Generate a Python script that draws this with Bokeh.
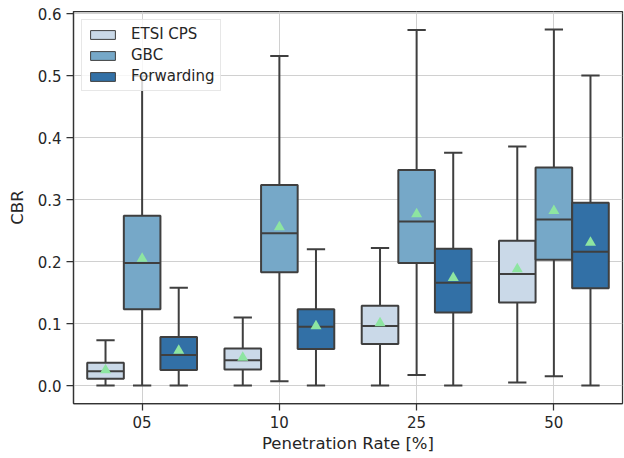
from bokeh.plotting import figure
from bokeh.models import ColumnDataSource, FixedTicker, Legend, LegendItem, Range1d
from bokeh.embed import file_html
from bokeh.resources import INLINE

categories = ["05", "10", "25", "50"]
series = ["ETSI CPS", "GBC", "Forwarding"]
colors = ["#cad9e8", "#76a8c8", "#3270a6"]

etsi_low = [0.0, 0.0, 0.0, 0.005]
etsi_q1 = [0.011, 0.026, 0.067, 0.134]
etsi_med = [0.023, 0.041, 0.096, 0.180]
etsi_q3 = [0.037, 0.060, 0.129, 0.234]
etsi_high = [0.073, 0.110, 0.222, 0.386]
etsi_mean = [0.025, 0.045, 0.101, 0.188]

gbc_low = [0.0, 0.007, 0.017, 0.015]
gbc_q1 = [0.123, 0.183, 0.198, 0.203]
gbc_med = [0.198, 0.246, 0.265, 0.268]
gbc_q3 = [0.274, 0.324, 0.348, 0.352]
gbc_high = [0.50, 0.532, 0.574, 0.575]
gbc_mean = [0.205, 0.256, 0.277, 0.282]

fwd_low = [0.0, 0.0, 0.0, 0.0]
fwd_q1 = [0.025, 0.059, 0.118, 0.157]
fwd_med = [0.0495, 0.095, 0.166, 0.216]
fwd_q3 = [0.0785, 0.123, 0.221, 0.295]
fwd_high = [0.158, 0.220, 0.376, 0.5005]
fwd_mean = [0.0565, 0.096, 0.174, 0.231]

stats = [
    (etsi_low, etsi_q1, etsi_med, etsi_q3, etsi_high, etsi_mean),
    (gbc_low, gbc_q1, gbc_med, gbc_q3, gbc_high, gbc_mean),
    (fwd_low, fwd_q1, fwd_med, fwd_q3, fwd_high, fwd_mean),
]

FONT = "DejaVu Sans"
EDGE = "#3f3f3f"
TXT = "#262626"

p = figure(width=624, height=458, output_backend="svg", toolbar_location=None,
           x_range=Range1d(-0.5, 3.5), y_range=Range1d(-0.029, 0.604),
           min_border_left=73, min_border_right=2, min_border_top=11, min_border_bottom=55)

p.outline_line_color = "#333333"
p.outline_line_width = 1.25
p.background_fill_color = "white"
p.border_fill_color = "white"

p.xgrid.grid_line_color = "#d0d0d0"
p.ygrid.grid_line_color = "#d0d0d0"
p.xgrid.grid_line_width = 1
p.ygrid.grid_line_width = 1

p.xaxis.ticker = FixedTicker(ticks=list(range(len(categories))))
p.xaxis.major_label_overrides = {i: c for i, c in enumerate(categories)}
p.yaxis.ticker = FixedTicker(ticks=[0.0, 0.1, 0.2, 0.3, 0.4, 0.5, 0.6])
p.yaxis.major_label_overrides = {v: f"{v:.1f}" for v in [0.0, 0.1, 0.2, 0.3, 0.4, 0.5, 0.6]}

for ax in (p.xaxis, p.yaxis):
    ax.axis_line_color = "#333333"
    ax.axis_line_width = 1.25
    ax.major_tick_line_color = "#333333"
    ax.major_tick_line_width = 1.25
    ax.major_tick_out = 7
    ax.major_tick_in = 0
    ax.minor_tick_line_color = None
    ax.major_label_text_font = FONT
    ax.major_label_text_font_size = "15px"
    ax.major_label_text_color = TXT
    ax.axis_label_text_font = FONT
    ax.axis_label_text_font_size = "16.5px"
    ax.axis_label_text_font_style = "normal"
    ax.axis_label_text_color = TXT
    ax.major_label_standoff = 5

p.xaxis.axis_label = "Penetration Rate [%]"
p.yaxis.axis_label = "CBR"
p.xaxis.axis_label_standoff = 3
p.yaxis.axis_label_standoff = 8

width = 0.8 / 3
legend_items = []
for k, (lo, q1, med, q3, hi, mn) in enumerate(stats):
    off = (k - 1) * width
    xs = [i + off for i in range(len(categories))]
    src = ColumnDataSource(dict(x=xs, lo=lo, q1=q1, med=med, q3=q3, hi=hi, mn=mn,
                                left=[x - width / 2 for x in xs], right=[x + width / 2 for x in xs],
                                cl=[x - width / 4 for x in xs], cr=[x + width / 4 for x in xs]))
    p.segment(x0="x", y0="lo", x1="x", y1="q1", source=src, line_color=EDGE, line_width=2)
    p.segment(x0="x", y0="q3", x1="x", y1="hi", source=src, line_color=EDGE, line_width=2)
    p.segment(x0="cl", y0="lo", x1="cr", y1="lo", source=src, line_color=EDGE, line_width=2)
    p.segment(x0="cl", y0="hi", x1="cr", y1="hi", source=src, line_color=EDGE, line_width=2)
    p.quad(left="left", right="right", bottom="q1", top="q3", source=src,
           fill_color=colors[k], line_color=EDGE, line_width=2)
    p.segment(x0="left", y0="med", x1="right", y1="med", source=src, line_color=EDGE, line_width=2)
    p.scatter(x="x", y="mn", source=src, marker="triangle", size=11,
              fill_color="#8de5a1", line_color=None)
    dummy = p.quad(left=[0], right=[0], bottom=[0], top=[0], fill_color=colors[k],
                   line_color=EDGE, line_width=1)
    legend_items.append(LegendItem(label=series[k], renderers=[dummy]))

legend = Legend(items=legend_items, location="top_left")
legend.margin = 8
legend.padding = 5
legend.spacing = 3
legend.glyph_width = 31
legend.glyph_height = 11
legend.label_height = 16
legend.label_standoff = 13
legend.label_text_font = FONT
legend.label_text_font_size = "15px"
legend.label_text_color = TXT
legend.border_line_color = "#d0d0d0"
legend.border_line_width = 1
legend.background_fill_color = "white"
legend.background_fill_alpha = 0.8
p.add_layout(legend, "center")

open("out.html", "w").write(file_html(p, INLINE))
